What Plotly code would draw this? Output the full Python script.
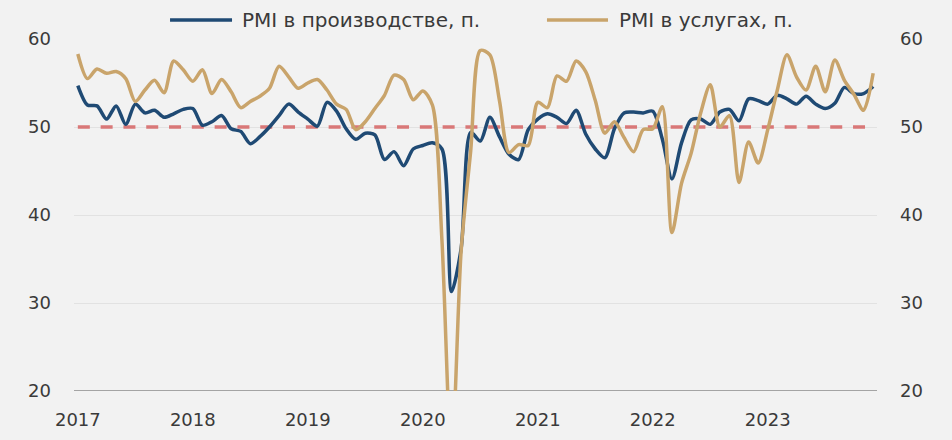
import plotly.graph_objects as go

years = ["2017", "2018", "2019", "2020", "2021", "2022", "2023"]

manufacturing = [
    54.7, 52.5, 52.4, 50.9, 52.4, 50.3, 52.6, 51.6, 51.9, 51.1, 51.5, 52.0,
    52.1, 50.2, 50.6, 51.3, 49.8, 49.5, 48.1, 48.9, 50.0, 51.3, 52.6, 51.7,
    50.9, 50.1, 52.8, 51.8, 49.8, 48.6, 49.3, 49.1, 46.3, 47.2, 45.6, 47.5,
    47.9, 48.2, 47.5, 31.3, 36.2, 49.4, 48.4, 51.1, 48.9, 46.9, 46.3, 49.7,
    50.9, 51.5, 51.1, 50.4, 51.9, 49.2, 47.5, 46.5, 49.8, 51.6, 51.7, 51.6,
    51.8, 48.6, 44.1, 48.2, 50.8, 50.9, 50.3, 51.7, 52.0, 50.7, 53.2, 53.0,
    52.6, 53.6, 53.2, 52.6, 53.5, 52.6, 52.1, 52.7, 54.5, 53.8, 53.8, 54.6,
]

services = [
    58.3, 55.5, 56.6, 56.1, 56.3, 55.5, 52.9, 54.2, 55.3, 53.9, 57.5, 56.5,
    55.2, 56.5, 53.8, 55.4, 54.0, 52.2, 52.9, 53.5, 54.4, 56.9, 55.7, 54.4,
    55.0, 55.4, 54.2, 52.6, 52.0, 49.7, 50.6, 52.1, 53.6, 55.9, 55.4, 53.1,
    54.1, 52.5, 37.1, 12.2, 35.9, 47.3, 58.7, 58.2, 53.0, 47.1, 48.0, 47.9,
    52.8, 52.2, 55.8, 55.2, 57.5, 56.3, 53.0, 49.3, 50.6, 48.8, 47.2, 49.7,
    49.8, 52.3, 38.0, 43.6, 47.0, 51.6, 54.8, 50.0, 51.3, 43.7, 48.3, 45.9,
    49.7, 54.2, 58.2, 55.7, 54.2, 56.9, 54.0, 57.6, 55.3, 53.7, 51.9, 56.1,
]

threshold = [50] * len(manufacturing)
months = list(range(len(manufacturing)))
tick_positions = [12 * k for k in range(len(years))]

name_manuf = "PMI в производстве, п."
name_serv = "PMI в услугах, п."

BLUE = "#1F4A74"
GOLD = "#C9A46B"
RED = "#D97878"
TEXT = "#3A3A3A"
FONT = "DejaVu Sans"

fig = go.Figure()
fig.add_trace(go.Scatter(
    x=months, y=threshold, mode="lines", showlegend=False, hoverinfo="skip",
    line=dict(color=RED, width=3.3, dash="12px,10.8px"),
))
fig.add_trace(go.Scatter(
    x=months, y=manufacturing, mode="lines", name=name_manuf, showlegend=False,
    line=dict(color=BLUE, width=3.5, shape="spline", smoothing=0.8),
))
fig.add_trace(go.Scatter(
    x=months, y=services, mode="lines", name=name_serv, showlegend=False,
    yaxis="y2",
    line=dict(color=GOLD, width=3.5, shape="spline", smoothing=0.8),
))

# manual legend (keys + labels) above the plot
legend_y = 1.054
fig.add_shape(type="line", xref="paper", yref="paper", x0=0.1196, x1=0.1968,
              y0=legend_y, y1=legend_y, line=dict(color=BLUE, width=3.5))
fig.add_shape(type="line", xref="paper", yref="paper", x0=0.589, x1=0.665,
              y0=legend_y, y1=legend_y, line=dict(color=GOLD, width=3.5))
fig.add_annotation(x=0.2067, y=legend_y, xref="paper", yref="paper", text=name_manuf,
                   showarrow=False, xanchor="left", yanchor="middle",
                   font=dict(family=FONT, size=20, color=TEXT))
fig.add_annotation(x=0.6762, y=legend_y, xref="paper", yref="paper", text=name_serv,
                   showarrow=False, xanchor="left", yanchor="middle",
                   font=dict(family=FONT, size=20, color=TEXT))

fig.update_layout(
    width=952, height=440, autosize=False,
    margin=dict(l=74, r=75, t=39, b=49, pad=0),
    paper_bgcolor="#F2F2F2", plot_bgcolor="#F2F2F2",
    font=dict(family=FONT, size=18, color=TEXT),
    showlegend=False,
    xaxis=dict(
        range=[-0.4, len(months) - 0.6], automargin=False,
        tickmode="array", tickvals=tick_positions, ticktext=years,
        showgrid=False, zeroline=False,
        showline=False, ticks="", ticklabelstandoff=16,
        tickfont=dict(family=FONT, size=18, color=TEXT),
    ),
    yaxis=dict(
        range=[20, 60], tickmode="array", tickvals=[20, 30, 40, 50, 60],
        automargin=False,
        showgrid=True, gridcolor="#E2E2E2", gridwidth=1.2,
        zeroline=False, showline=False, ticks="", ticklabelstandoff=22,
        tickfont=dict(family=FONT, size=18, color=TEXT),
    ),
    yaxis2=dict(
        range=[20, 60], tickmode="array", tickvals=[20, 30, 40, 50, 60],
        automargin=False,
        overlaying="y", side="right", showgrid=False, zeroline=False,
        showline=False, ticks="", ticklabelstandoff=22,
        tickfont=dict(family=FONT, size=18, color=TEXT),
    ),
)

# baseline at 20
fig.add_shape(type="line", xref="paper", yref="y", x0=0, x1=1, y0=20, y1=20,
              line=dict(color="#8A8A8A", width=1.5), layer="below")

fig.write_html(
    "out.html",
    config={"displayModeBar": False},
    post_script="document.body.style.margin='0';document.body.style.background='#F2F2F2';",
)
